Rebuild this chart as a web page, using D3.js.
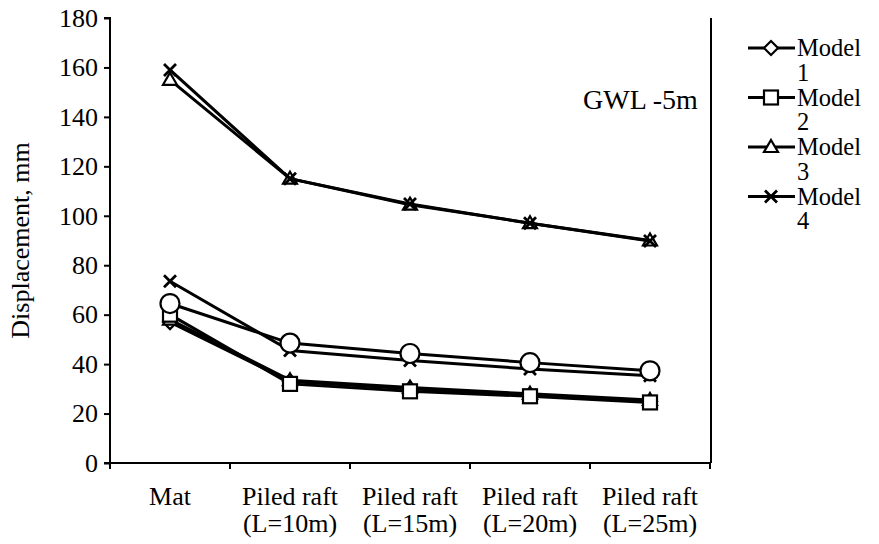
<!DOCTYPE html>
<html>
<head>
<meta charset="utf-8">
<script src="https://cdn.jsdelivr.net/npm/d3@7"></script>
<style>
  html, body { margin: 0; padding: 0; background: #fff; }
  svg { display: block; }
</style>
</head>
<body>
<svg id="chart" width="879" height="544"></svg>
<script>
// Foundation type along the x axis (two-line labels)
const categories = ["Mat", "Piled raft (L=10m)", "Piled raft (L=15m)", "Piled raft (L=20m)", "Piled raft (L=25m)"];
const categoryLines = [["Mat"], ["Piled raft", "(L=10m)"], ["Piled raft", "(L=15m)"], ["Piled raft", "(L=20m)"], ["Piled raft", "(L=25m)"]];

// Y axis ticks (displacement, mm)
const yTicks = [0, 20, 40, 60, 80, 100, 120, 140, 160, 180];

// Displacement values, mm
const model1 = [57, 33, 30, 27.5, 25];
const model2 = [60, 32, 29, 27, 24.5];
const model3 = [58, 33.5, 30.5, 28, 25.5];
const model4 = [73.5, 45.5, 41.5, 38, 35.3];
const circleSeries = [64.5, 48.5, 44.3, 40.6, 37.3];
const model3Upper = [155, 115, 104.5, 97, 90];
const model4Upper = [159, 115, 104.8, 97, 89.8];

const legendNames = ["Model 1", "Model 2", "Model 3", "Model 4"];
const legendSymbols = ["diamond", "square", "triangle", "cross"];

const series = [
  { values: model1, symbol: "diamond" },
  { values: model3, symbol: "triangle" },
  { values: model2, symbol: "square" },
  { values: model4, symbol: "cross" },
  { values: circleSeries, symbol: "circle" },
  { values: model3Upper, symbol: "triangle" },
  { values: model4Upper, symbol: "cross" }
];

const FONT = "'Liberation Serif', 'Tinos', 'Times New Roman', 'DejaVu Serif', serif";
const FS = 26;

const svg = d3.select("#chart");
const margin = { left: 110, right: 169, top: 18, bottom: 81 };
const W = 879, H = 544;
const plotW = W - margin.left - margin.right;
const plotH = H - margin.top - margin.bottom;

const x = d3.scaleBand().domain(categories).range([margin.left, margin.left + plotW]);
const y = d3.scaleLinear().domain([0, 180]).range([margin.top + plotH, margin.top]);

// Y axis
const yAxis = svg.append("g")
  .attr("transform", `translate(${margin.left},0)`)
  .call(d3.axisLeft(y).tickValues(yTicks).tickSize(6).tickPadding(6));
yAxis.attr("font-family", FONT).attr("font-size", FS);
yAxis.selectAll("text").attr("font-family", FONT).attr("font-size", FS).attr("fill", "#000");
yAxis.selectAll("line, path").attr("stroke", "#000").attr("stroke-width", 2);
yAxis.select(".domain").attr("d", `M-6,${y(180)}H0V${y(0)}`);

// X axis with ticks at category boundaries
const xAxisG = svg.append("g").attr("transform", `translate(0,${y(0)})`);
xAxisG.append("line")
  .attr("x1", margin.left - 6).attr("x2", margin.left + plotW)
  .attr("stroke", "#000").attr("stroke-width", 2);
const boundaries = categories.map(c => x(c)).concat([margin.left + plotW]);
xAxisG.selectAll("line.tick").data(boundaries).join("line")
  .attr("class", "tick")
  .attr("x1", d => d).attr("x2", d => d)
  .attr("y1", 0).attr("y2", 6)
  .attr("stroke", "#000").attr("stroke-width", 2);
categories.forEach((c, i) => {
  const cx = x(c) + x.bandwidth() / 2;
  const t = xAxisG.append("text")
    .attr("x", cx)
    .attr("y", 42)
    .attr("text-anchor", "middle")
    .attr("font-family", FONT).attr("font-size", FS);
  categoryLines[i].forEach((ln, j) => {
    t.append("tspan").attr("x", cx).attr("dy", j === 0 ? 0 : 27).text(ln);
  });
});

// Right edge of plot area
svg.append("line")
  .attr("x1", margin.left + plotW + 1).attr("x2", margin.left + plotW + 1)
  .attr("y1", y(180)).attr("y2", y(0))
  .attr("stroke", "#000").attr("stroke-width", 2);

// Y axis title
svg.append("text")
  .attr("transform", `translate(29,${margin.top + plotH / 2}) rotate(-90)`)
  .attr("text-anchor", "middle")
  .attr("font-family", FONT).attr("font-size", FS)
  .text("Displacement, mm");

// Annotation
svg.append("text")
  .attr("x", 583).attr("y", 109)
  .attr("font-family", FONT).attr("font-size", 28)
  .text("GWL -5m");

// Marker drawing
function drawMarker(g, symbol, cx, cy) {
  const sw = 2.2;
  if (symbol === "circle") {
    g.append("circle").attr("cx", cx).attr("cy", cy).attr("r", 9.5)
      .attr("fill", "#fff").attr("stroke", "#000").attr("stroke-width", sw);
  } else if (symbol === "square") {
    g.append("rect").attr("x", cx - 7).attr("y", cy - 7).attr("width", 14).attr("height", 14)
      .attr("fill", "#fff").attr("stroke", "#000").attr("stroke-width", sw);
  } else if (symbol === "diamond") {
    g.append("path").attr("d", `M${cx},${cy - 7}L${cx + 7},${cy}L${cx},${cy + 7}L${cx - 7},${cy}Z`)
      .attr("fill", "#fff").attr("stroke", "#000").attr("stroke-width", sw);
  } else if (symbol === "triangle") {
    g.append("path").attr("d", `M${cx},${cy - 7}L${cx + 7},${cy + 5}L${cx - 7},${cy + 5}Z`)
      .attr("fill", "#fff").attr("stroke", "#000").attr("stroke-width", sw);
  } else if (symbol === "cross") {
    g.append("path").attr("d", `M${cx - 6},${cy - 6}L${cx + 6},${cy + 6}M${cx - 6},${cy + 6}L${cx + 6},${cy - 6}`)
      .attr("fill", "none").attr("stroke", "#000").attr("stroke-width", 2.8);
  }
}

const line = d3.line()
  .x((d, i) => x(categories[i]) + x.bandwidth() / 2)
  .y(d => y(d));

const plot = svg.append("g");
series.forEach(s => {
  const g = plot.append("g");
  g.append("path").datum(s.values).attr("d", line)
    .attr("fill", "none").attr("stroke", "#000").attr("stroke-width", 3);
  s.values.forEach((v, i) => drawMarker(g, s.symbol, x(categories[i]) + x.bandwidth() / 2, y(v)));
});

// Legend: each name wraps onto two lines
const LFS = 24.5;
const legend = svg.append("g");
legendNames.forEach((name, i) => {
  const cy = 48 + i * 49.5;
  const g = legend.append("g");
  g.append("line").attr("x1", 748).attr("x2", 795).attr("y1", cy).attr("y2", cy)
    .attr("stroke", "#000").attr("stroke-width", 3);
  drawMarker(g, legendSymbols[i], 771, cy);
  const parts = name.split(" ");
  const t = g.append("text").attr("x", 797).attr("y", cy + 8)
    .attr("font-family", FONT).attr("font-size", LFS);
  t.append("tspan").attr("x", 797).attr("dy", 0).text(parts[0]);
  t.append("tspan").attr("x", 797).attr("dy", 24.75).text(parts[1]);
});
</script>
</body>
</html>
